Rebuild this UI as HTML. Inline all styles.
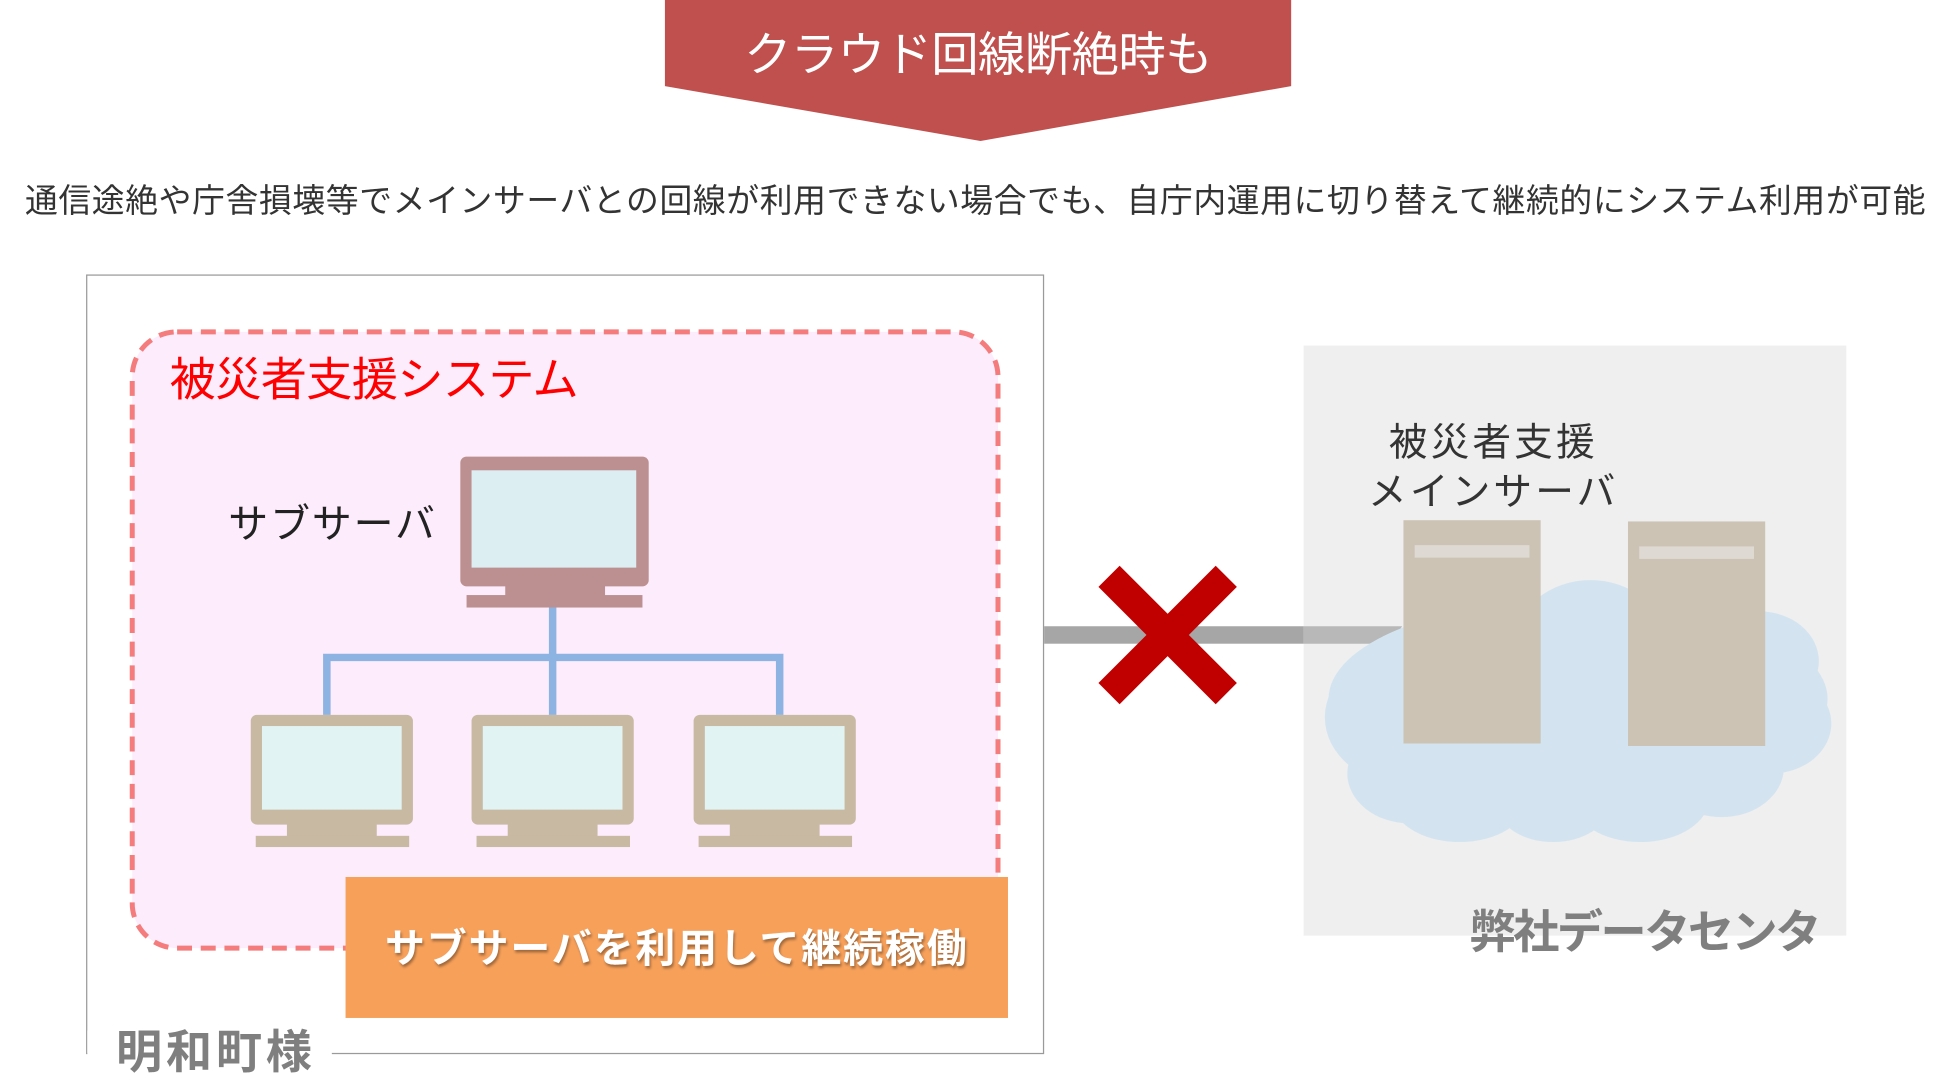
<!DOCTYPE html>
<html><head><meta charset="utf-8"><style>
html,body{margin:0;padding:0;background:#fff;width:1955px;height:1090px;overflow:hidden}
#s{position:absolute;left:0;top:0;width:1560px;height:870px;transform:scale(1.2475);transform-origin:0 0;font-family:"Liberation Sans","Noto Sans CJK JP",sans-serif}
.a{position:absolute;white-space:nowrap}
</style></head><body><div id="s">
<svg width="1560" height="870" style="position:absolute;left:0;top:0">
<polygon points="533,0 1035,0 1035,69 786,113 533,69" fill="#c0504d"/>
<rect x="69.5" y="220.5" width="767" height="624" fill="#fff" stroke="#9a9a9a" stroke-width="1"/>
<rect x="106" y="266" width="694" height="494" rx="36" fill="#fdecfc" stroke="#f47c7c" stroke-width="4" stroke-dasharray="12,7"/>
<rect x="369" y="366" width="151" height="104" rx="5" fill="#bc9090"/>
<rect x="378" y="377" width="132" height="78" fill="#ddeef2"/>
<rect x="405" y="468" width="80" height="10" fill="#bc9090"/>
<rect x="374" y="477" width="141" height="10" fill="#bc9090"/>
<g stroke="#8db3e2" stroke-width="6" fill="none">
<path d="M443 487V573M262 573V527H625V573"/>
</g>
<g fill="#c8b9a2">
<rect x="201" y="573" width="130" height="88" rx="5"/><rect x="230" y="658" width="72" height="14"/><rect x="205" y="670" width="123" height="9"/>
<rect x="378" y="573" width="130" height="88" rx="5"/><rect x="407" y="658" width="72" height="14"/><rect x="382" y="670" width="123" height="9"/>
<rect x="556" y="573" width="130" height="88" rx="5"/><rect x="585" y="658" width="72" height="14"/><rect x="560" y="670" width="123" height="9"/>
</g>
<g fill="#e2f3f3">
<rect x="210" y="582" width="112" height="67"/><rect x="387" y="582" width="112" height="67"/><rect x="565" y="582" width="112" height="67"/>
</g>
<rect x="277" y="703" width="531" height="113" fill="#f6a05a"/>
<rect x="70" y="826" width="196" height="36" fill="#fff"/>
<rect x="1045" y="277" width="435" height="473" fill="#efefef"/>
<rect x="837" y="502" width="208" height="14" fill="#a6a6a6"/>
<polygon points="1045,502 1124,502 1114,516 1045,516" fill="#b8b8b8"/>
<g fill="#d3e4f0">
<ellipse cx="1265" cy="560" rx="200" ry="80"/>
<ellipse cx="1130" cy="575" rx="68" ry="55"/>
<ellipse cx="1275" cy="515" rx="60" ry="50"/>
<ellipse cx="1410" cy="530" rx="48" ry="40"/>
<ellipse cx="1420" cy="580" rx="48" ry="40"/>
<ellipse cx="1130" cy="620" rx="50" ry="40"/>
<ellipse cx="1170" cy="640" rx="55" ry="35"/>
<ellipse cx="1245" cy="645" rx="45" ry="30"/>
<ellipse cx="1315" cy="640" rx="55" ry="35"/>
<ellipse cx="1380" cy="615" rx="50" ry="40"/>
</g>
<g fill="#ccc3b4"><rect x="1125" y="417" width="110" height="179"/><rect x="1305" y="418" width="110" height="180"/></g>
<g fill="#dedad3"><rect x="1134" y="437" width="92" height="10"/><rect x="1314" y="438" width="92" height="10"/></g>
<g stroke="#c00000" stroke-width="24"><path d="M889 462L983 556M983 462L889 556"/></g>
</svg>
<div class="a" style="left:533px;width:502px;text-align:center;top:20px;font-size:38px;color:#fff;line-height:50px;letter-spacing:-0.5px">クラウド回線断絶時も</div>
<div class="a" style="left:20px;top:142px;font-size:26.3px;color:#333;line-height:38px;letter-spacing:0.5px">通信途絶や庁舎損壊等でメインサーバとの回線が利用できない場合でも、自庁内運用に切り替えて継続的にシステム利用が可能</div>
<div class="a" style="left:136px;top:281px;font-size:37px;color:#f00;line-height:48px;letter-spacing:-0.5px">被災者支援システム</div>
<div class="a" style="left:183px;top:398px;font-size:32px;color:#222;line-height:44px;letter-spacing:1.5px">サブサーバ</div>
<div class="a" style="left:277px;width:531px;text-align:center;top:738px;font-size:32px;color:#fff;font-weight:bold;line-height:44px;letter-spacing:1.5px;text-shadow:1px 2px 2px rgba(0,0,0,.35)">サブサーバを利用して継続稼働</div>
<div class="a" style="left:93px;top:820px;font-size:37px;color:#7f7f7f;font-weight:bold;line-height:48px;letter-spacing:3px">明和町様</div>
<div class="a" style="left:1092px;width:210px;text-align:center;top:335px;font-size:31px;color:#333;line-height:40px;letter-spacing:2.5px">被災者支援<br>メインサーバ</div>
<div class="a" style="left:1178px;top:724px;font-size:37px;color:#7f7f7f;font-weight:bold;line-height:48px;letter-spacing:-2px">弊社データセンタ</div>
</div></body></html>
